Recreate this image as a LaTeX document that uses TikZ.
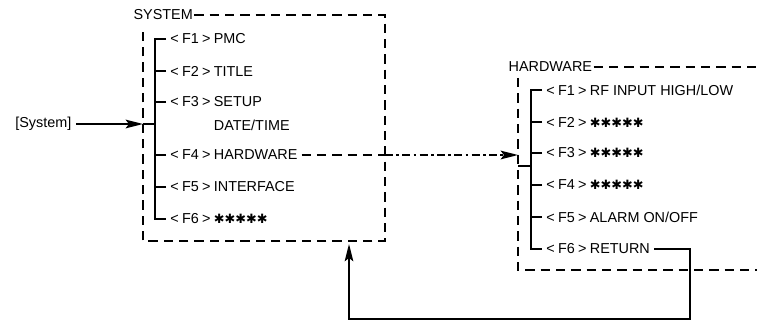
\documentclass[tikz,border=0pt]{standalone}
\usepackage{fontspec}
\setmainfont{Liberation Sans}
\newfontfamily\symfont{DejaVu Sans}
\usetikzlibrary{arrows.meta, positioning}

\newcommand\fkey[1]{<\kern2.5pt F#1\kern2.5pt>\kern2.5pt}
\newcommand\stars{{\symfont\fontsize{9.6}{10}\selectfont ✱✱✱✱✱}}

\begin{document}
\begin{tikzpicture}[
      x=0.75pt, y=-0.75pt,
      every node/.style={font=\fontsize{10.8}{12}\selectfont},
      item/.style={anchor=west, inner xsep=3pt, inner ysep=1pt},
      menulabel/.style={anchor=west, inner xsep=1pt, inner ysep=1pt},
      boxline/.style={line width=1.8pt, dash pattern=on 7pt off 4.5pt},
      tree/.style={line width=1.5pt},
      arrow/.style={-{Stealth[length=13pt, width=6.5pt, inset=2.5pt]}, line width=1.5pt},
      dashdot/.style={line width=1.5pt, dash pattern=on 6pt off 2.5pt on 2pt off 2.5pt}
    ]
      \useasboundingbox (0,0) rectangle (757,321);

      % SYSTEM menu
      \node[menulabel] (syslabel) at (132,15) {SYSTEM};
      \node[item] (sys1) at (166,39) {\fkey{1}PMC};
      \node[item] (sys2) at (166,71) {\fkey{2}TITLE};
      \node[item] (sys3) at (166,102) {\fkey{3}SETUP};
      \node[item] (sys3b) at (166,125) {\phantom{\fkey{3}}DATE/TIME};
      \node[item] (sys4) at (166,155) {\fkey{4}HARDWARE};
      \node[item] (sys5) at (166,187) {\fkey{5}INTERFACE};
      \node[item] (sys6) at (166,219) {\fkey{6}\stars};
      \node[anchor=east] (sysentry) at (76,124) {[System]};

      \coordinate (sysbar) at (155,0);
      \coordinate (sysin) at (143,124);
      \coordinate (systl) at (143,28);
      \coordinate (sysbr) at (385,241);
      \coordinate (sysout) at (sysbr |- sys4.east);
      \coordinate (sysret) at (349,244);

      \draw[boxline] (syslabel.east) -| (sysbr) -| (systl);
      \draw[tree] (sys1.west) -| (sysbar |- sys6.west) -- (sys6.west);
      \foreach \i in {2,...,5}
        \draw[tree] (sys\i.west) -- (sysbar |- sys\i.west);
      \draw[arrow] (sysentry) -- (sysin);
      \draw[tree] (sysin) -- (sysbar |- sysin);

      % HARDWARE menu
      \node[menulabel] (hwlabel) at (507,67) {HARDWARE};
      \node[item] (hw1) at (542,90) {\fkey{1}RF INPUT HIGH/LOW};
      \node[item] (hw2) at (542,122) {\fkey{2}\stars};
      \node[item] (hw3) at (542,153) {\fkey{3}\stars};
      \node[item] (hw4) at (542,185) {\fkey{4}\stars};
      \node[item] (hw5) at (542,217) {\fkey{5}ALARM ON/OFF};
      \node[item] (hw6) at (542,249) {\fkey{6}RETURN};

      \coordinate (hwbar) at (531,0);
      \coordinate (hwin) at (518,155);
      \coordinate (hwjoin) at (518,166);
      \coordinate (hwtl) at (518,78);
      \coordinate (hwbr) at (757,270);
      \coordinate (retturn) at (690,319);

      \draw[boxline] (hwlabel.east) -- (hwlabel.east -| hwbr);
      \draw[boxline] (hwtl) |- (hwbr);
      \draw[tree] (hw1.west) -| (hwbar |- hw6.west) -- (hw6.west);
      \foreach \i in {2,...,5}
        \draw[tree] (hw\i.west) -- (hwbar |- hw\i.west);
      \draw[tree] (hwjoin) -- (hwbar |- hwjoin);

      % links
      \draw[boxline] (sys4.east) -- (sysout);
      \draw[dashdot, arrow] (sysout) -- (hwin);
      \draw[arrow, line width=1.2pt] (hw6.east) -| (retturn) -| (sysret);
    \end{tikzpicture}
\end{document}
